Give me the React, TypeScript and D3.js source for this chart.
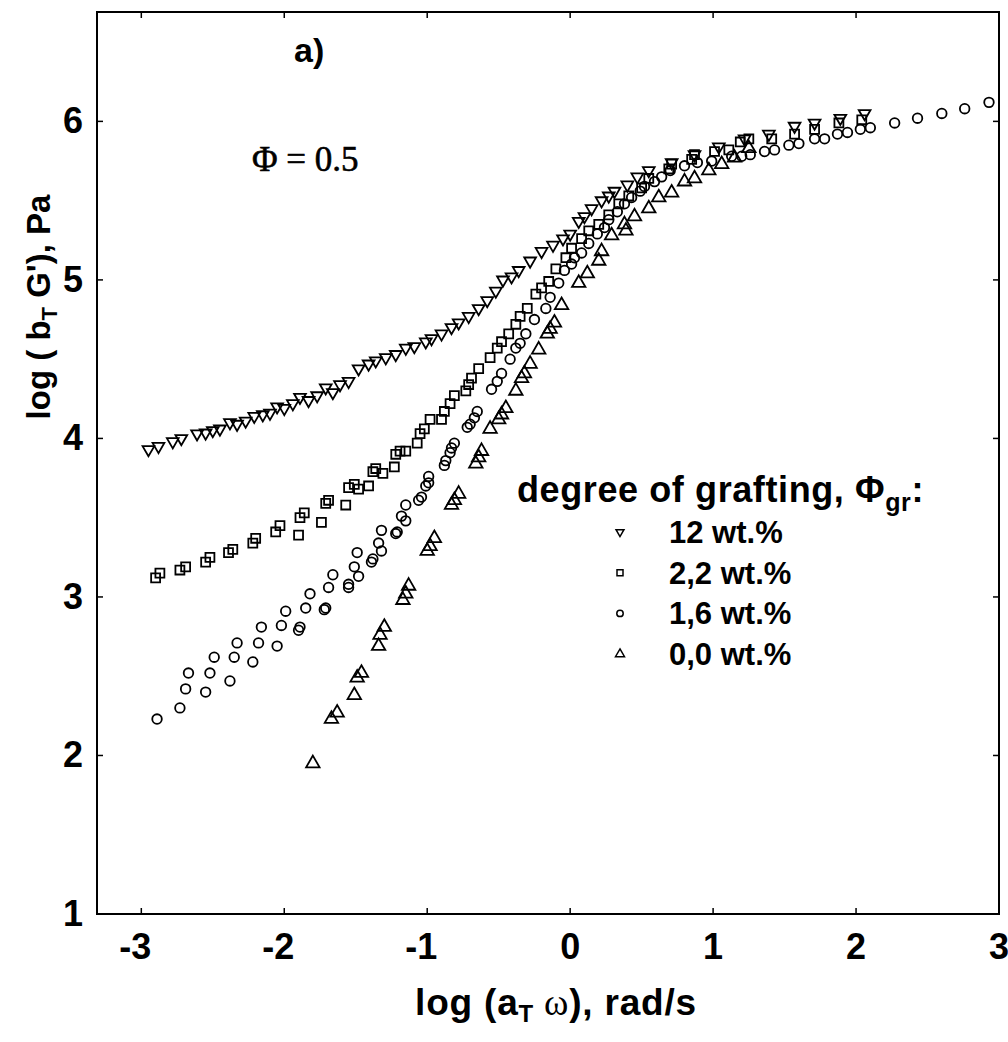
import React from "react";
import * as d3 from "d3";

// 12 wt.% (down triangles)
const g12: [number, number][] = [
  [-2.95, 3.93], [-2.88, 3.95], [-2.78, 3.98], [-2.72, 4.0], [-2.61, 4.03], [-2.55, 4.035],
  [-2.5, 4.05], [-2.45, 4.06], [-2.38, 4.1], [-2.33, 4.09], [-2.27, 4.11], [-2.21, 4.14],
  [-2.15, 4.15], [-2.1, 4.16], [-2.05, 4.2], [-2.0, 4.19], [-1.94, 4.22], [-1.89, 4.26],
  [-1.83, 4.24], [-1.77, 4.27], [-1.71, 4.32], [-1.66, 4.29], [-1.61, 4.34], [-1.55, 4.36],
  [-1.48, 4.44], [-1.41, 4.47], [-1.36, 4.49], [-1.29, 4.51], [-1.22, 4.53], [-1.15, 4.57],
  [-1.09, 4.58], [-1.01, 4.61], [-0.97, 4.63], [-0.9, 4.66], [-0.83, 4.7], [-0.78, 4.73],
  [-0.71, 4.77], [-0.64, 4.82], [-0.58, 4.87], [-0.52, 4.93], [-0.47, 5.0], [-0.41, 5.02],
  [-0.36, 5.06], [-0.28, 5.12], [-0.2, 5.18], [-0.12, 5.22], [-0.05, 5.26], [0.0, 5.29],
  [0.06, 5.37], [0.1, 5.4], [0.15, 5.45], [0.22, 5.5], [0.27, 5.53], [0.31, 5.56],
  [0.4, 5.6], [0.47, 5.65], [0.55, 5.69], [0.71, 5.74], [0.87, 5.79], [1.04, 5.84],
  [1.22, 5.89], [1.39, 5.92], [1.57, 5.97], [1.71, 5.99], [1.89, 6.02], [2.06, 6.05],
];

// 2,2 wt.% (squares)
const g22: [number, number][] = [
  [-2.9, 3.12], [-2.87, 3.15], [-2.73, 3.17], [-2.69, 3.19], [-2.55, 3.22], [-2.52, 3.25],
  [-2.39, 3.28], [-2.36, 3.3], [-2.22, 3.34], [-2.2, 3.37], [-2.06, 3.41], [-2.03, 3.45],
  [-1.9, 3.39], [-1.89, 3.5], [-1.86, 3.53], [-1.74, 3.47], [-1.71, 3.59], [-1.69, 3.61],
  [-1.57, 3.58], [-1.55, 3.69], [-1.51, 3.71], [-1.48, 3.68], [-1.41, 3.7], [-1.38, 3.79],
  [-1.36, 3.81], [-1.31, 3.78], [-1.23, 3.82], [-1.22, 3.9], [-1.19, 3.92], [-1.15, 3.92],
  [-1.07, 3.97], [-1.05, 4.03], [-1.02, 4.06], [-0.98, 4.12], [-0.9, 4.12], [-0.88, 4.17],
  [-0.84, 4.22], [-0.81, 4.27], [-0.73, 4.3], [-0.71, 4.34], [-0.69, 4.38], [-0.64, 4.44],
  [-0.56, 4.51], [-0.51, 4.57], [-0.48, 4.61], [-0.43, 4.66], [-0.38, 4.72], [-0.35, 4.77],
  [-0.3, 4.82], [-0.24, 4.91], [-0.2, 4.95], [-0.15, 4.99], [-0.1, 5.07], [-0.03, 5.14],
  [0.01, 5.2], [0.08, 5.26], [0.13, 5.31], [0.2, 5.35], [0.27, 5.41], [0.34, 5.48],
  [0.41, 5.53], [0.5, 5.58], [0.55, 5.64], [0.69, 5.7], [0.71, 5.73], [0.85, 5.76],
  [0.87, 5.79], [1.01, 5.81], [1.11, 5.82], [1.19, 5.87], [1.25, 5.89], [1.41, 5.89],
  [1.57, 5.92], [1.71, 5.95], [1.88, 5.99], [2.04, 6.01],
];

// 1,6 wt.% (circles)
const g16: [number, number][] = [
  [-2.89, 2.23], [-2.73, 2.3], [-2.69, 2.42], [-2.67, 2.52], [-2.55, 2.4], [-2.52, 2.52],
  [-2.49, 2.62], [-2.38, 2.47], [-2.35, 2.62], [-2.33, 2.71], [-2.22, 2.59], [-2.18, 2.71],
  [-2.16, 2.81], [-2.05, 2.69], [-2.02, 2.82], [-1.99, 2.91], [-1.9, 2.79], [-1.89, 2.81],
  [-1.85, 2.93], [-1.82, 3.02], [-1.72, 2.92], [-1.71, 2.93], [-1.69, 3.06], [-1.66, 3.14],
  [-1.55, 3.06], [-1.55, 3.08], [-1.51, 3.19], [-1.48, 3.13], [-1.49, 3.28], [-1.39, 3.22],
  [-1.38, 3.24], [-1.34, 3.34], [-1.32, 3.29], [-1.32, 3.42], [-1.22, 3.4], [-1.21, 3.41],
  [-1.18, 3.51], [-1.15, 3.48], [-1.15, 3.58], [-1.06, 3.61], [-1.04, 3.63], [-1.01, 3.7],
  [-0.99, 3.72], [-0.99, 3.76], [-0.88, 3.83], [-0.87, 3.86], [-0.84, 3.91], [-0.83, 3.94],
  [-0.81, 3.97], [-0.72, 4.07], [-0.7, 4.09], [-0.67, 4.13], [-0.65, 4.17], [-0.55, 4.31],
  [-0.51, 4.36], [-0.48, 4.41], [-0.42, 4.5], [-0.38, 4.57], [-0.35, 4.6], [-0.31, 4.66],
  [-0.25, 4.75], [-0.17, 4.82], [-0.14, 4.89], [-0.08, 4.98], [-0.04, 5.06], [0.01, 5.1],
  [0.03, 5.14], [0.08, 5.17], [0.13, 5.23], [0.19, 5.29], [0.24, 5.33], [0.27, 5.38],
  [0.33, 5.43], [0.38, 5.48], [0.43, 5.52], [0.49, 5.56], [0.52, 5.59], [0.59, 5.62],
  [0.64, 5.65], [0.7, 5.69], [0.8, 5.72], [0.89, 5.74], [0.99, 5.75], [1.13, 5.78],
  [1.2, 5.78], [1.26, 5.79], [1.36, 5.81], [1.43, 5.82], [1.53, 5.85], [1.6, 5.86],
  [1.71, 5.89], [1.78, 5.89], [1.87, 5.92], [1.94, 5.93], [2.03, 5.95], [2.1, 5.96],
  [2.27, 5.99], [2.43, 6.02], [2.6, 6.05], [2.76, 6.08], [2.93, 6.12],
];

// 0,0 wt.% (up triangles)
const g00: [number, number][] = [
  [-1.8, 1.95], [-1.67, 2.23], [-1.63, 2.27], [-1.51, 2.38], [-1.49, 2.49], [-1.46, 2.52],
  [-1.34, 2.69], [-1.33, 2.76], [-1.3, 2.81], [-1.17, 2.98], [-1.15, 3.02], [-1.13, 3.07],
  [-1.0, 3.29], [-0.98, 3.32], [-0.95, 3.37], [-0.83, 3.58], [-0.81, 3.61], [-0.78, 3.65],
  [-0.66, 3.84], [-0.64, 3.88], [-0.62, 3.92], [-0.56, 4.06], [-0.5, 4.12], [-0.48, 4.15],
  [-0.45, 4.19], [-0.38, 4.3], [-0.34, 4.38], [-0.32, 4.41], [-0.28, 4.47], [-0.22, 4.56],
  [-0.16, 4.66], [-0.14, 4.69], [-0.11, 4.73], [-0.06, 4.84], [0.06, 4.98], [0.12, 5.04],
  [0.2, 5.12], [0.22, 5.18], [0.29, 5.28], [0.38, 5.35], [0.39, 5.31], [0.45, 5.4],
  [0.55, 5.45], [0.62, 5.52], [0.71, 5.55], [0.8, 5.62], [0.87, 5.64], [0.97, 5.69],
  [1.06, 5.73], [1.15, 5.77], [1.25, 5.83],
];

const xTicks = [-3, -2, -1, 0, 1, 2, 3];
const yTicks = [1, 2, 3, 4, 5, 6];
const legendLabels = ["12 wt.%", "2,2 wt.%", "1,6 wt.%", "0,0 wt.%"];

const W = 1008;
const H = 1042;
const left = 97, right = 999, top = 12, bottom = 914;

const sans = "'Liberation Sans', Arial, sans-serif";
const serif = "'Liberation Serif', 'Times New Roman', serif";

type Kind = "down" | "square" | "circle" | "up";

const markerPath = (kind: Kind, small = false) => {
  const k = small ? 0.45 : 1;
  if (kind === "square") return d3.symbol(d3.symbolSquare, 80 * k)()!;
  if (kind === "circle") return d3.symbol(d3.symbolCircle, 72 * k)()!;
  if (kind === "up") return d3.symbol(d3.symbolTriangle, 78 * k)()!;
  return d3.symbol(d3.symbolTriangle, 60 * k)()!;
};

const App: React.FC = () => {
  const x = d3.scaleLinear().domain([-3.31, 3.0]).range([left, right]);
  const y = d3.scaleLinear().domain([1, 6.69]).range([bottom, top]);

  const series: { data: [number, number][]; kind: Kind }[] = [
    { data: g00, kind: "up" },
    { data: g16, kind: "circle" },
    { data: g22, kind: "square" },
    { data: g12, kind: "down" },
  ];
  const legendKinds: Kind[] = ["down", "square", "circle", "up"];

  const rot = (kind: Kind) => (kind === "down" ? " rotate(180)" : "");

  return (
    <svg
      width={W}
      height={H}
      style={{ position: "absolute", left: 0, top: 0, background: "#fff" }}
    >
      <rect x={0} y={0} width={W} height={H} fill="#fff" />
      {/* frame */}
      <rect
        x={left}
        y={top}
        width={right - left}
        height={bottom - top}
        fill="none"
        stroke="#000"
        strokeWidth={2}
      />
      {/* x ticks, bottom and top, inward */}
      {xTicks.map((t) => (
        <g key={"xt" + t}>
          <line x1={x(t)} x2={x(t)} y1={bottom} y2={bottom - 6} stroke="#000" strokeWidth={1.5} />
          <line x1={x(t)} x2={x(t)} y1={top} y2={top + 6} stroke="#000" strokeWidth={1.5} />
          <text
            x={x(t) - (t < 0 ? 6 : 0)}
            y={959}
            textAnchor="middle"
            fontFamily={sans}
            fontWeight="bold"
            fontSize={36}
          >
            {t}
          </text>
        </g>
      ))}
      {/* y ticks, left and right, inward */}
      {yTicks.map((t) => (
        <g key={"yt" + t}>
          <line x1={left} x2={left + 6} y1={y(t)} y2={y(t)} stroke="#000" strokeWidth={1.5} />
          <line x1={right} x2={right - 6} y1={y(t)} y2={y(t)} stroke="#000" strokeWidth={1.5} />
          <text
            x={83}
            y={y(t) + 12}
            textAnchor="end"
            fontFamily={sans}
            fontWeight="bold"
            fontSize={36}
          >
            {t}
          </text>
        </g>
      ))}

      {/* data */}
      {series.map((s) => (
        <g key={s.kind} fill="none" stroke="#000" strokeWidth={1.8}>
          {s.data.map((d, i) => (
            <path
              key={i}
              d={markerPath(s.kind)}
              transform={`translate(${x(d[0])},${y(d[1])})${rot(s.kind)}`}
            />
          ))}
        </g>
      ))}

      {/* annotations */}
      <text x={294} y={62} fontFamily={sans} fontWeight="bold" fontSize={34}>
        a)
      </text>
      <text x={252} y={171} fontFamily={serif} fontSize={35} stroke="#000" strokeWidth={0.6}>
        Φ = 0.5
      </text>

      {/* legend */}
      <text x={517} y={502} fontFamily={sans} fontWeight="bold" fontSize={36} letterSpacing={0.6}>
        degree of grafting, Φ
        <tspan fontSize={25} dy={9}>gr</tspan>
        <tspan dy={-9}>:</tspan>
      </text>
      {legendLabels.map((lab, i) => {
        const cy = 532 + i * 40.7;
        return (
          <g key={lab}>
            <path
              d={markerPath(legendKinds[i], true)}
              transform={`translate(620,${cy})${rot(legendKinds[i])}`}
              fill="none"
              stroke="#000"
              strokeWidth={1.5}
            />
            <text x={669} y={cy + 11} fontFamily={sans} fontWeight="bold" fontSize={31}>
              {lab}
            </text>
          </g>
        );
      })}

      {/* axis titles */}
      <text
        x={556}
        y={1015}
        textAnchor="middle"
        fontFamily={sans}
        fontWeight="bold"
        fontSize={37}
        letterSpacing={0.8}
      >
        log (a<tspan fontSize={24} dy={7}>T</tspan>
        <tspan dy={-7} fontFamily={serif} fontWeight="normal"> ω</tspan>), rad/s
      </text>
      <text
        transform="translate(50,307) rotate(-90)"
        textAnchor="middle"
        fontFamily={sans}
        fontWeight="bold"
        fontSize={33}
      >
        log ( b<tspan fontSize={22} dy={7}>T</tspan>
        <tspan dy={-7}> G'), Pa</tspan>
      </text>
    </svg>
  );
};

export default App;
